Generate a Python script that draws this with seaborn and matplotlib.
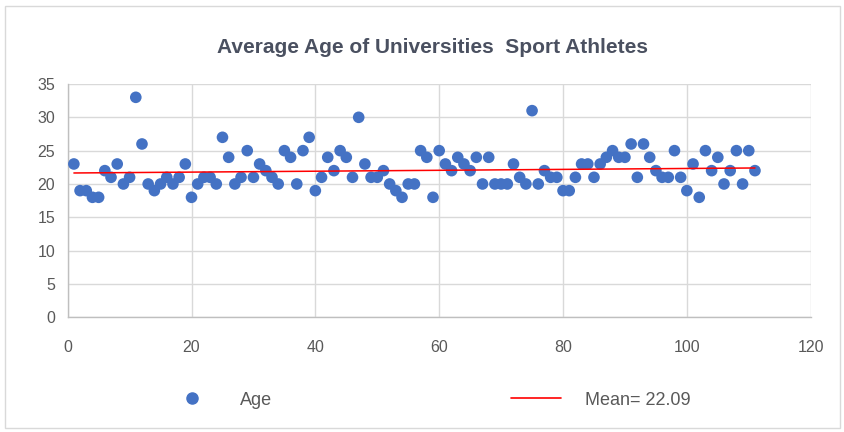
import numpy as np
import pandas as pd
import seaborn as sns
import matplotlib.pyplot as plt
from matplotlib.patches import Rectangle
from matplotlib.lines import Line2D

# athlete number (1..111) and age
athlete = list(range(1, 112))
age = [
    23, 19, 19, 18, 18, 22, 21, 23, 20, 21,
    33, 26, 20, 19, 20, 21, 20, 21, 23, 18,
    20, 21, 21, 20, 27, 24, 20, 21, 25, 21,
    23, 22, 21, 20, 25, 24, 20, 25, 27, 19,
    21, 24, 22, 25, 24, 21, 30, 23, 21, 21,
    22, 20, 19, 18, 20, 20, 25, 24, 18, 25,
    23, 22, 24, 23, 22, 24, 20, 24, 20, 20,
    20, 23, 21, 20, 31, 20, 22, 21, 21, 19,
    19, 21, 23, 23, 21, 23, 24, 25, 24, 24,
    26, 21, 26, 24, 22, 21, 21, 25, 21, 19,
    23, 18, 25, 22, 24, 20, 22, 25, 20, 25, 22,
]
# red reference line endpoints
trend_x = [1, 111]
trend_y = [21.65, 22.4]
mean_label = "Mean= 22.09"

x_ticks = [0, 20, 40, 60, 80, 100, 120]
y_ticks = [0, 5, 10, 15, 20, 25, 30, 35]

df = pd.DataFrame({"athlete": athlete, "Age": age})
trend = pd.DataFrame({"x": trend_x, "y": trend_y})

sns.set_theme(style="white")
plt.rcParams["font.family"] = ["Liberation Sans", "DejaVu Sans"]

text_col = "#595959"
title_col = "#4a5060"
grid_col = "#D9D9D9"
blue = "#4472C4"

fig = plt.figure(figsize=(8.45, 4.32), dpi=100)
ax = fig.add_axes([0.0801, 0.2655, 0.8793, 0.5401])

sns.scatterplot(data=df, x="athlete", y="Age", ax=ax, color=blue, s=70,
                edgecolor="none", legend=False, zorder=3)
sns.lineplot(data=trend, x="x", y="y", ax=ax, color="#FF0000", linewidth=1.1,
             legend=False, zorder=4)

ax.set_xlim(0, 120)
ax.set_ylim(0, 35)
ax.set_xticks(x_ticks)
ax.set_yticks(y_ticks)
ax.set_xlabel("")
ax.set_ylabel("")
ax.grid(True, color=grid_col, linewidth=1.0)
ax.set_axisbelow(True)
for side in ["top", "right"]:
    ax.spines[side].set_visible(False)
for side in ["left", "bottom"]:
    ax.spines[side].set_color("#BFBFBF")
    ax.spines[side].set_linewidth(1.0)
ax.tick_params(axis="both", length=0, labelsize=11.5, labelcolor=text_col)
ax.tick_params(axis="y", pad=9)
ax.tick_params(axis="x", pad=16)

fig.text(0.512, 0.891, "Average Age of Universities  Sport Athletes",
         ha="center", va="center", fontsize=15, fontweight="bold",
         color=title_col)

handles = [
    Line2D([], [], marker="o", linestyle="none", color=blue, markersize=8),
    Line2D([], [], color="#FF0000", linewidth=1.2),
]
fig.legend(handles, ["Age", mean_label], loc="center",
           bbox_to_anchor=(0.507, 0.074), ncol=2, frameon=False,
           fontsize=13, labelcolor=text_col, handlelength=2.8,
           handletextpad=1.3, columnspacing=13.2)

fig.patches.append(Rectangle((0.006, 0.01), 0.988, 0.975,
                             transform=fig.transFigure, fill=False,
                             edgecolor=grid_col, linewidth=1.0))

fig.savefig("out.png", dpi=100)
